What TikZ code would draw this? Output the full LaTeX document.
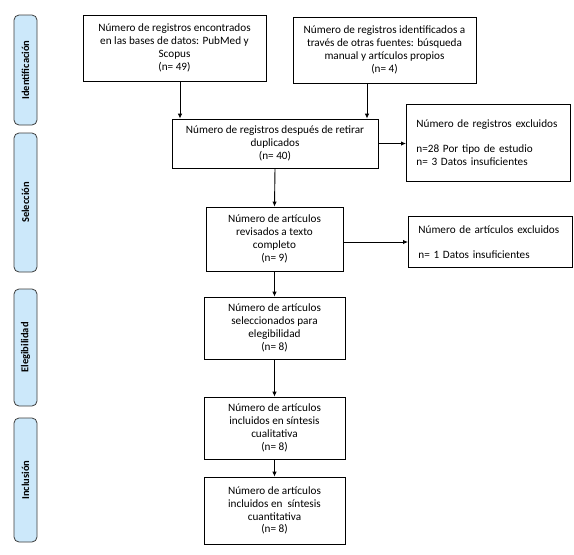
\documentclass[tikz,border=0pt]{standalone}
\usepackage{fontspec}
\setmainfont{Carlito}
\usetikzlibrary{arrows.meta}
\definecolor{fasefill}{RGB}{204,232,250}
\definecolor{faseline}{RGB}{60,60,60}
\tikzset{
    caja/.style={draw, line width=0.8pt, align=center, inner sep=1pt,
        font=\fontsize{11.2}{12.8}\selectfont},
    excl/.style={draw, line width=0.8pt, align=left, anchor=north west,
        inner sep=0pt, text width=144pt, font=\fontsize{11.2}{12.8}\selectfont},
    fase/.style={draw=faseline, fill=fasefill, line width=0.8pt, rounded corners=5pt,
        rotate=90, minimum height=23pt, inner sep=0pt,
        font=\fontsize{10.5}{12}\selectfont\bfseries},
    flecha/.style={-{Latex[length=5pt,width=4.5pt]}, line width=0.9pt}
}
\begin{document}
\begin{tikzpicture}[x=1pt,y=-1pt]
        \useasboundingbox (0,0) rectangle (574,555);

        % fases
        \node[fase, minimum width=110pt] (ident) at (25.5,70) {Identificación};
        \node[fase, minimum width=139pt] (selec) at (25.5,202.5) {Selección};
        \node[fase, minimum width=117pt] (elegi) at (25.5,347.5) {Elegibilidad};
        \node[fase, minimum width=124pt] (inclu) at (25.5,480) {Inclusión};

        % cajas principales
        \node[caja, minimum width=183pt, minimum height=66pt] (encontrados) at (174.5,48)
            {Número de registros encontrados\\en las bases de datos: PubMed y\\Scopus\\(n= 49)};
        \node[caja, minimum width=183pt, minimum height=66pt] (otras) at (384.5,50)
            {Número de registros identificados a\\través de otras fuentes: búsqueda\\manual y artículos propios\\(n= 4)};
        \node[caja, minimum width=206pt, minimum height=49pt] (duplicados) at (275,143.5)
            {Número de registros después de retirar\\duplicados\\(n= 40)};
        \node[caja, minimum width=137pt, minimum height=64pt] (revisados) at (274.5,239)
            {Número de artículos\\revisados a texto\\completo\\(n= 9)};
        \node[caja, minimum width=141pt, minimum height=62pt] (seleccionados) at (274.5,328)
            {Número de artículos\\seleccionados para\\elegibilidad\\(n= 8)};
        \node[caja, minimum width=141pt, minimum height=62pt] (cualitativa) at (274.5,428)
            {Número de artículos\\incluidos en síntesis\\cualitativa\\(n= 8)};
        \node[caja, minimum width=141pt, minimum height=67pt] (cuantitativa) at (274.5,510.5)
            {Número de artículos\\incluidos en \ síntesis\\cuantitativa\\(n= 8)};

        % excluidos
        \node[excl, minimum height=77pt, inner xsep=10pt, inner ysep=7pt] (excl1) at (406,104)
            {Número de registros excluidos\\[12pt]n=28 Por tipo de estudio\\n= 3 Datos insuficientes};
        \node[excl, minimum height=51pt, inner xsep=10pt, inner ysep=7pt] (excl2) at (408,216)
            {Número de artículos excluidos\\[12pt]n= 1 Datos insuficientes};

        % flechas
        \draw[flecha] ([xshift=5.5pt]encontrados.south) -- ([xshift=5.5pt]encontrados.south |- duplicados.north);
        \draw[flecha] ([xshift=-17.5pt]otras.south) -- ([xshift=-17.5pt]otras.south |- duplicados.north);
        \draw[flecha] (duplicados.east) -- (duplicados.east -| excl1.west);
        \draw[flecha] (duplicados.south) -- (revisados.north);
        \draw[flecha] ([yshift=-3pt]revisados.east) -- ([yshift=-3pt]revisados.east -| excl2.west);
        \draw[flecha] (revisados.south) -- (seleccionados.north);
        \draw[flecha] (seleccionados.south) -- (cualitativa.north);
        \draw[flecha] (cualitativa.south) -- (cuantitativa.north);
    \end{tikzpicture}
\end{document}
